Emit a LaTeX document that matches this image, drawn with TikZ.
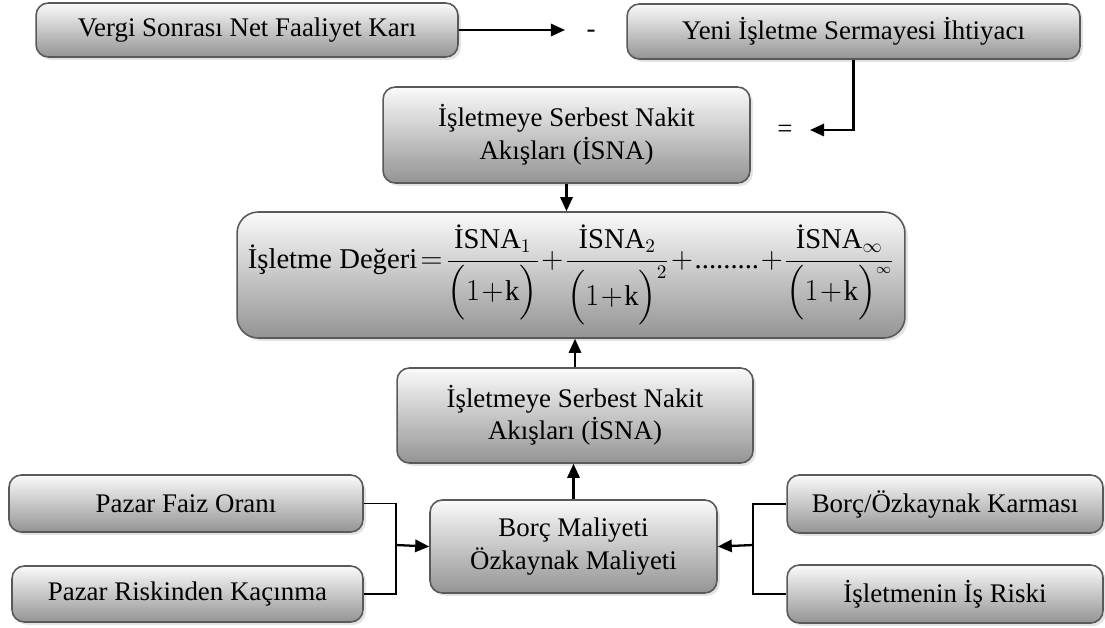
\documentclass[tikz,border=0pt]{standalone}
\usepackage{amsmath}
\usepackage{fontspec}
\setmainfont{Liberation Serif}
\usetikzlibrary{arrows.meta, positioning, shadows}

\tikzset{
  kutu/.style={draw=black!65, line width=0.9pt, rounded corners=7pt,
    top color=black!2, bottom color=black!42,
    drop shadow={shadow xshift=1.6pt, shadow yshift=-1.6pt, fill=black!22},
    align=center, inner sep=2pt, font=\fontsize{15.3}{18.5}\selectfont},
  isaret/.style={font=\fontsize{15.3}{18}\selectfont, inner sep=1pt, anchor=base},
  ok/.style={line width=1.3pt, -{Triangle[length=8pt,width=7pt]}},
  kol/.style={line width=0.8pt}
}

\begin{document}
\begin{tikzpicture}[x=0.02cm, y=-0.02cm]
    \useasboundingbox (0,0) rectangle (1105,627);

    % Top row - profit minus new capital need
    \node[kutu, minimum width=8.44cm, minimum height=1.08cm] (vergi) at (247,30) {Vergi Sonrası Net Faaliyet Karı};
    \node[kutu, minimum width=9.06cm, minimum height=1.1cm] (yeni) at (853.5,31.5) {Yeni İşletme Sermayesi İhtiyacı};
    \node[isaret] (eksi) at (591,37) {-};
    \coordinate (eksiUc) at (565,30);
    \draw[ok] (vergi.east) -- (eksiUc);

    % Free cash flow (result)
    \node[kutu, minimum width=7.34cm, minimum height=1.92cm] (isnaUst) at (566.5,135) {İşletmeye Serbest Nakit\\Akışları (İSNA)};
    \node[isaret] (esit) at (785,137) {=};
    \coordinate (esitUc) at (810,130);
    \draw[ok] (yeni.south) |- (esitUc);

    % Firm value formula
    \node[kutu, rounded corners=12pt, minimum width=13.36cm, minimum height=2.52cm, font=\fontsize{16.3}{20}\selectfont] (deger) at (571,275)
      {\thickmuskip=2mu \medmuskip=1mu
       $\text{İşletme Değeri} = \dfrac{\text{İSNA}_{1}}{\Bigl(1+\mathrm{k}\Bigr)} + \dfrac{\text{İSNA}_{2}}{\Bigl(1+\mathrm{k}\Bigr)^{2}} + \text{.........} + \dfrac{\text{İSNA}_{\infty}}{\Bigl(1+\mathrm{k}\Bigr)^{\scriptscriptstyle\infty}}$};
    \draw[ok] (isnaUst.south) -- (isnaUst.south |- deger.north);

    % Free cash flow (input) and cost of capital
    \node[kutu, minimum width=7.12cm, minimum height=1.9cm] (isnaAlt) at (575,415.5) {İşletmeye Serbest Nakit\\Akışları (İSNA)};
    \node[kutu, minimum width=5.74cm, minimum height=1.86cm] (maliyet) at (573.5,546.5) {Borç Maliyeti\\Özkaynak Maliyeti};
    \draw[ok] (isnaAlt.north) -- (isnaAlt.north |- deger.south);
    \draw[ok] (maliyet.north) -- (maliyet.north |- isnaAlt.south);

    % Left inputs
    \node[kutu, minimum width=7.08cm, minimum height=1.14cm] (faiz) at (186,503.5) {Pazar Faiz Oranı};
    \node[kutu, minimum width=7.02cm, minimum height=1.12cm] (risk) at (187.5,594) {Pazar Riskinden Kaçınma};
    \coordinate (solKol) at (396,545);
    \draw[kol] (faiz.east) -| (solKol) |- (risk.east);
    \draw[ok] (solKol) -- (maliyet.west);

    % Right inputs
    \node[kutu, minimum width=6.32cm, minimum height=1.16cm] (karma) at (945,504) {Borç/Özkaynak Karması};
    \node[kutu, minimum width=6.32cm, minimum height=1.16cm] (isRisk) at (945,594) {İşletmenin İş Riski};
    \coordinate (sagKol) at (753,545);
    \draw[kol] (karma.west) -| (sagKol) |- (isRisk.west);
    \draw[ok] (sagKol) -- (maliyet.east);
\end{tikzpicture}
\end{document}
